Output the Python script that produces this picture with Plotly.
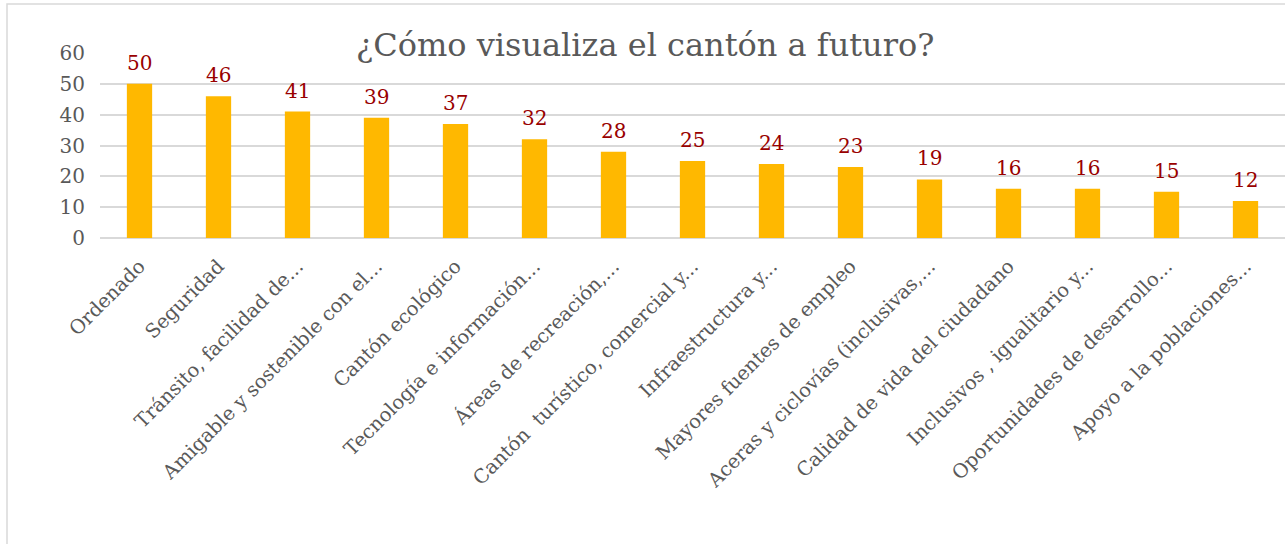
import plotly.graph_objects as go

categories = [
    "Ordenado", "Seguridad", "Tránsito, facilidad de...", "Amigable y sostenible con el...",
    "Cantón ecológico", "Tecnología e información...", "Áreas de recreación,...",
    "Cantón  turístico, comercial y...", "Infraestructura y...", "Mayores fuentes de empleo",
    "Aceras y ciclovías (inclusivas,...", "Calidad de vida del ciudadano",
    "Inclusivos , igualitario y...", "Oportunidades de desarrollo...", "Apoyo a la poblaciones...",
]
values = [50, 46, 41, 39, 37, 32, 28, 25, 24, 23, 19, 16, 16, 15, 12]
y_ticks = [0, 10, 20, 30, 40, 50, 60]
title_text = "¿Cómo visualiza el cantón a futuro?"

FONT = "DejaVu Serif"
GRAY = "#595959"
W, H = 1285, 544
L, T, PW, PH = 100, 53, 1185, 185

fig = go.Figure()
fig.add_trace(go.Bar(
    x=categories, y=values,
    marker=dict(color="#FFB800", line=dict(width=0)),
    width=0.32,
    hoverinfo="skip",
))

for c, v in zip(categories, values):
    fig.add_annotation(x=c, y=v, text=str(v), showarrow=False, yanchor="bottom",
                       yshift=7, font=dict(family=FONT, size=20, color="#990000"))

fig.add_annotation(xref="paper", yref="paper", x=(645 - L) / PW, y=(T + PH - 45) / PH,
                   text=title_text, showarrow=False, xanchor="center", yanchor="middle",
                   font=dict(family=FONT, size=32, color=GRAY))

fig.add_shape(type="rect", xref="paper", yref="paper",
              x0=(7 - L) / PW, x1=1.2, y0=-3, y1=(T + PH - 4) / PH,
              line=dict(color="#D9D9D9", width=1.5), fillcolor="rgba(0,0,0,0)", layer="below")

fig.update_layout(
    width=W, height=H,
    margin=dict(l=L, r=0, t=T, b=H - T - PH, pad=0),
    plot_bgcolor="white", paper_bgcolor="white",
    showlegend=False,
    font=dict(family=FONT, color=GRAY),
    xaxis=dict(tickangle=-45, tickfont=dict(family=FONT, size=19.5, color=GRAY),
               showgrid=False, showline=False, ticks="", range=[-0.5, 14.5],
               ticklabelstandoff=12),
    yaxis=dict(range=[0, 60], tickvals=y_ticks, tickfont=dict(family=FONT, size=20, color=GRAY),
               gridcolor="#D9D9D9", gridwidth=1.5, zeroline=True, zerolinecolor="#D9D9D9",
               zerolinewidth=1.5, showline=False, ticks="", ticklabelstandoff=14),
)

fig.write_html("out.html", config={"displayModeBar": False},
               post_script="document.body.style.margin='0';")
